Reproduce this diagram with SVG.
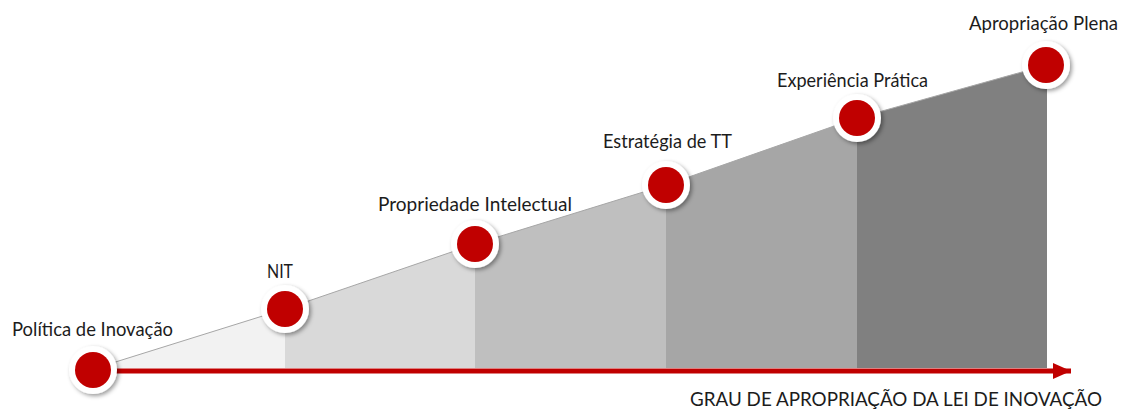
<svg xmlns="http://www.w3.org/2000/svg" width="1122" height="412" viewBox="0 0 1122 412">
<defs>
<filter id="sh" x="-30%" y="-30%" width="170%" height="170%">
<feDropShadow dx="2" dy="2" stdDeviation="2" flood-color="#000" flood-opacity="0.4"/>
</filter>
<marker id="arr" markerUnits="userSpaceOnUse" markerWidth="20" markerHeight="18" refX="18" refY="8" orient="auto">
<path d="M0,0 L18,8 L0,16 Z" fill="#c00000"/>
</marker>
<style>
.lbl{font-family:Lato,"Open Sans","Liberation Sans",sans-serif;font-size:19px;fill:#1c1c1c}
.ring{fill:#fff;filter:url(#sh)}
.dot{fill:#c00000}
.edge{stroke:#a6a6a6;stroke-width:1;fill:none}
</style>
</defs>
<rect width="1122" height="412" fill="#fff"/>
<g id="ramp">
<polygon points="93,369 285,309 285,368 93,368" fill="#f2f2f2"/>
<polygon points="285,309 475,244 475,368 285,368" fill="#d9d9d9"/>
<polygon points="475,244 666,185 666,368 475,368" fill="#bfbfbf"/>
<polygon points="666,185 857,118 857,368 666,368" fill="#a6a6a6"/>
<polygon points="857,118 1047,65 1047,368 857,368" fill="#808080"/>
<polyline class="edge" points="93,369 285,309 475,244 666,185 857,118 1047,65"/>
</g>
<g id="connectors">
<line x1="110" y1="371" x2="1071" y2="371" stroke="#c00000" stroke-width="5" marker-end="url(#arr)"/>
</g>
<g id="node-politica">
<circle class="ring" cx="93" cy="370" r="24"/>
<circle class="dot" cx="93" cy="370" r="18"/>
<text class="lbl" x="12" y="336" textLength="161" lengthAdjust="spacingAndGlyphs">Política de Inovação</text>
</g>
<g id="node-nit">
<circle class="ring" cx="285" cy="309" r="24"/>
<circle class="dot" cx="285" cy="309" r="18"/>
<text class="lbl" x="267" y="278" textLength="26" lengthAdjust="spacingAndGlyphs">NIT</text>
</g>
<g id="node-pi">
<circle class="ring" cx="475" cy="244" r="24"/>
<circle class="dot" cx="475" cy="244" r="18"/>
<text class="lbl" x="378" y="211" textLength="194" lengthAdjust="spacingAndGlyphs">Propriedade Intelectual</text>
</g>
<g id="node-tt">
<circle class="ring" cx="666" cy="185" r="24"/>
<circle class="dot" cx="666" cy="185" r="18"/>
<text class="lbl" x="603" y="148" textLength="129" lengthAdjust="spacingAndGlyphs">Estratégia de TT</text>
</g>
<g id="node-exp">
<circle class="ring" cx="857" cy="118" r="24"/>
<circle class="dot" cx="857" cy="118" r="18"/>
<text class="lbl" x="777" y="87" textLength="151" lengthAdjust="spacingAndGlyphs">Experiência Prática</text>
</g>
<g id="node-plena">
<circle class="ring" cx="1046" cy="65" r="24"/>
<circle class="dot" cx="1046" cy="65" r="18"/>
<text class="lbl" x="969" y="30" textLength="149" lengthAdjust="spacingAndGlyphs">Apropriação Plena</text>
</g>
<g id="axis-label">
<text class="lbl" x="690" y="406" textLength="412" lengthAdjust="spacingAndGlyphs">GRAU DE APROPRIAÇÃO DA LEI DE INOVAÇÃO</text>
</g>
</svg>
